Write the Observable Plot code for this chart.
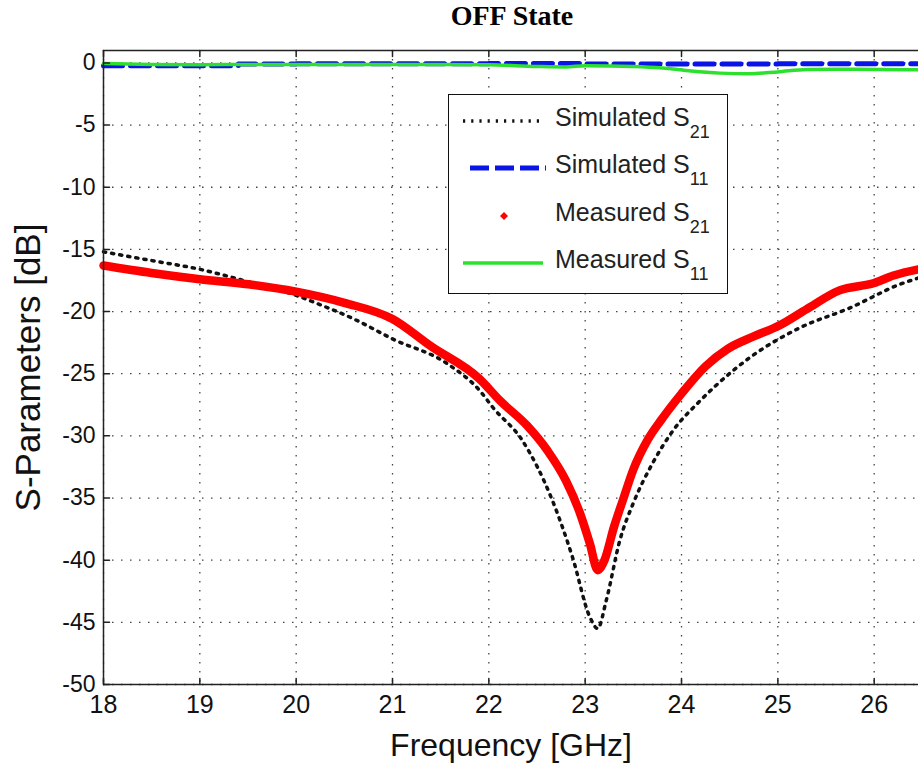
<!DOCTYPE html>
<html><head><meta charset="utf-8">
<script src="https://cdn.jsdelivr.net/npm/d3@7"></script>
<script src="https://cdn.jsdelivr.net/npm/@observablehq/plot@0.6"></script>
<style>
body{margin:0;background:#fff;}
#wrap{position:relative;width:918px;height:767px;overflow:hidden;background:#fff;}
#title{height:32px;width:918px;box-sizing:border-box;padding-left:106px;text-align:center;line-height:32px;font:bold 28px "Liberation Serif","Times New Roman",serif;color:#000;}
#chart{position:absolute;left:0;top:35px;}
#legend{position:absolute;left:448px;top:94px;width:280px;height:200px;box-sizing:border-box;border:1.5px solid #111;background:#fff;}
#legend svg{position:absolute;left:0;top:0;}
</style></head>
<body>
<div id="wrap">
  <div id="title">OFF State</div>
  <div id="chart"></div>
  <div id="legend"></div>
</div>
<script>
// ---- data ----
const xDomain = [18, 26.46];
const yDomain = [-50, 1];
const xTicks = [18, 19, 20, 21, 22, 23, 24, 25, 26];
const yTicks = [0, -5, -10, -15, -20, -25, -30, -35, -40, -45, -50];

const simS21Freq = [18.0, 18.5, 19.0, 19.5, 20.0, 20.2, 20.6, 21.0, 21.57, 21.91, 22.04, 22.35, 22.66, 22.87, 23.05, 23.13, 23.22, 23.36, 23.5, 23.7, 23.91, 24.19, 24.35, 24.71, 25.23, 25.75, 26.27, 26.46];
const simS21 =     [-15.2, -15.9, -16.6, -17.6, -18.7, -19.3, -20.6, -22.2, -24.2, -26.4, -27.7, -30.4, -35.2, -39.8, -44.6, -45.5, -43.2, -38.4, -35.4, -32.2, -29.6, -27.2, -26.0, -23.7, -21.3, -19.7, -17.8, -17.3];

const simS11Freq = [18.0, 18.5, 19.0, 19.3, 19.4, 20.0, 21.0, 22.0, 23.0, 24.0, 25.0, 26.0, 26.46];
const simS11 =     [-0.22, -0.22, -0.22, -0.22, -0.08, -0.06, -0.06, -0.05, -0.08, -0.08, -0.06, -0.06, -0.06];

const measS21Freq = [18.0, 18.5, 19.0, 19.5, 20.0, 20.5, 21.0, 21.4, 21.9, 22.12, 22.4, 22.61, 22.8, 22.95, 23.05, 23.13, 23.2, 23.3, 23.39, 23.5, 23.65, 23.8, 24.0, 24.25, 24.48, 24.75, 25.02, 25.3, 25.64, 26.0, 26.2, 26.46];
const measS21 =     [-16.3, -16.9, -17.4, -17.8, -18.4, -19.3, -20.6, -22.8, -25.4, -27.2, -29.2, -31.2, -33.6, -36.3, -38.7, -40.8, -40.0, -37.3, -35.2, -32.7, -30.3, -28.6, -26.6, -24.4, -23.0, -22.0, -21.1, -19.8, -18.3, -17.7, -17.1, -16.6];

const measS11Freq = [18.0, 18.5, 19.0, 19.5, 20.0, 20.5, 21.0, 21.5, 22.0, 22.5, 22.8, 23.0, 23.5, 23.8, 24.1, 24.4, 24.7, 25.0, 25.3, 25.8, 26.46];
const measS11 =     [-0.05, -0.12, -0.15, -0.12, -0.12, -0.12, -0.12, -0.12, -0.15, -0.28, -0.32, -0.22, -0.28, -0.4, -0.65, -0.82, -0.88, -0.72, -0.52, -0.5, -0.55];

const rows = (fs, vs) => fs.map((f, i) => ({f, v: vs[i]}));

const gridStyle = {stroke: "#444", strokeWidth: 1.3, strokeDasharray: "1.5,7.5"};
const frameStyle = {stroke: "#222", strokeWidth: 1.5};
const tickShape = {draw(context, l) { context.moveTo(0, 0); context.lineTo(0, -l); }};
const tickStyle = {length: 6, anchor: "start", shape: tickShape, stroke: "#222", strokeWidth: 1.5};

const plot = Plot.plot({
  width: 918,
  height: 732,
  marginLeft: 103,
  marginRight: 0,
  marginTop: 15,
  marginBottom: 83,
  style: {fontFamily: "'Liberation Sans', Arial, sans-serif", background: "white", color: "#111", overflow: "visible"},
  x: {domain: xDomain},
  y: {domain: yDomain},
  marks: [
    Plot.ruleX(xTicks, gridStyle),
    Plot.ruleY(yTicks, gridStyle),
    Plot.line(rows(simS21Freq, simS21), {x: "f", y: "v", stroke: "#111", strokeWidth: 3.5, strokeDasharray: "2.2,6", curve: "monotone-x"}),
    Plot.line(rows(simS11Freq, simS11), {x: "f", y: "v", stroke: "#0a14e6", strokeWidth: 5, strokeDasharray: "19,8", curve: "step-after"}),
    Plot.line(rows(measS21Freq, measS21), {x: "f", y: "v", stroke: "#ff0000", strokeWidth: 8.5, curve: "monotone-x"}),
    Plot.line(rows(measS11Freq, measS11), {x: "f", y: "v", stroke: "#2ee02e", strokeWidth: 3.5, curve: "monotone-x"}),
    Plot.axisX({anchor: "bottom", ticks: xTicks, tickSize: 0, tickPadding: 11, fontSize: 25, label: null, tickFormat: d => String(d)}),
    Plot.axisY({anchor: "left", ticks: yTicks, tickSize: 0, tickPadding: 8, fontSize: 23, label: null, tickFormat: d => String(d)}),
    // inward ticks (MATLAB style)
    Plot.vector(xTicks, {x: d => d, y: yDomain[0], rotate: 0, ...tickStyle}),
    Plot.vector(xTicks, {x: d => d, y: yDomain[1], rotate: 180, ...tickStyle}),
    Plot.vector(yTicks, {x: xDomain[0], y: d => d, rotate: 90, ...tickStyle}),
    Plot.ruleX([xDomain[0]], frameStyle),
    Plot.ruleY([yDomain[0]], frameStyle),
    Plot.ruleY([yDomain[1]], frameStyle),
    Plot.text(["Frequency [GHz]"], {text: d => d, frameAnchor: "bottom", textAnchor: "middle", lineAnchor: "middle", dy: 61, fontSize: 32, fill: "#111"}),
    Plot.text(["S-Parameters [dB]"], {text: d => d, frameAnchor: "left", textAnchor: "middle", lineAnchor: "middle", dx: -75, rotate: -90, fontSize: 35, fill: "#111"})
  ]
});
document.getElementById("chart").appendChild(plot);

// ---- legend ----
const legendItems = [
  {name: "Simulated S", sub: "21", kind: "dotted"},
  {name: "Simulated S", sub: "11", kind: "dashed"},
  {name: "Measured S", sub: "21", kind: "marker"},
  {name: "Measured S", sub: "11", kind: "solid"}
];
const ns = "http://www.w3.org/2000/svg";
const lsvg = document.createElementNS(ns, "svg");
lsvg.setAttribute("width", 277); lsvg.setAttribute("height", 197);
const rowY = [31, 78, 126, 173];
legendItems.forEach((it, i) => {
  const y = rowY[i];
  const sampleY = y - 5;
  if (it.kind === "marker") {
    const p = document.createElementNS(ns, "path");
    p.setAttribute("d", `M${55},${sampleY-4}L${59},${sampleY}L${55},${sampleY+4}L${51},${sampleY}Z`);
    p.setAttribute("fill", "#ff0000");
    lsvg.appendChild(p);
  } else {
    const l = document.createElementNS(ns, "line");
    const x1 = it.kind === "dashed" ? 21 : 14, x2 = it.kind === "dashed" ? 97 : 94;
    l.setAttribute("x1", x1); l.setAttribute("x2", x2);
    l.setAttribute("y1", sampleY); l.setAttribute("y2", sampleY);
    if (it.kind === "dotted") { l.setAttribute("stroke", "#111"); l.setAttribute("stroke-width", 3.5); l.setAttribute("stroke-dasharray", "2.2,6"); }
    if (it.kind === "dashed") { l.setAttribute("stroke", "#0a14e6"); l.setAttribute("stroke-width", 5); l.setAttribute("stroke-dasharray", "19,6"); }
    if (it.kind === "solid") { l.setAttribute("stroke", "#2ee02e"); l.setAttribute("stroke-width", 3.5); }
    lsvg.appendChild(l);
  }
  const t = document.createElementNS(ns, "text");
  t.setAttribute("x", 106); t.setAttribute("y", y);
  t.setAttribute("font-family", "'Liberation Sans', Arial, sans-serif");
  t.setAttribute("font-size", 25); t.setAttribute("fill", "#222");
  t.appendChild(document.createTextNode(it.name));
  const s = document.createElementNS(ns, "tspan");
  s.setAttribute("dy", 12); s.setAttribute("font-size", 18);
  s.textContent = it.sub;
  t.appendChild(s);
  lsvg.appendChild(t);
});
document.getElementById("legend").appendChild(lsvg);
</script>
</body></html>
